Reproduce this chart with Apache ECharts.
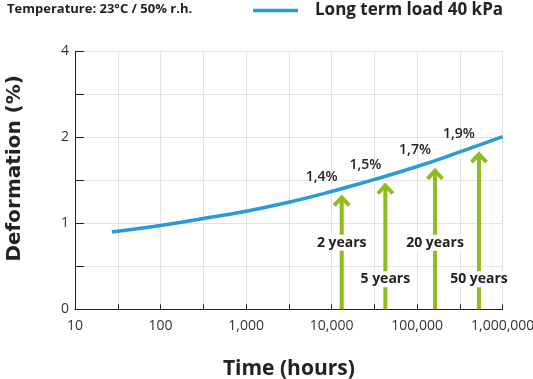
<!DOCTYPE html>
<html>
<head>
<meta charset="utf-8">
<script src="https://cdn.jsdelivr.net/npm/echarts@6/dist/echarts.min.js"></script>
<style>html,body{margin:0;padding:0;background:#fff}#c{width:533px;height:379px}</style>
</head>
<body>
<div id="c"></div>
<script>
// ---- data ----
const hours = [27, 100, 316, 1000, 3162, 10000, 31623, 100000, 316228, 1000000];
const deformation = [0.90, 0.975, 1.055, 1.14, 1.245, 1.37, 1.51, 1.66, 1.83, 2.015];
const arrowHours = [13120, 42460, 161800, 528000];
const arrowTips = [1.318, 1.457, 1.628, 1.821];
const arrowPct = ['1,4%', '1,5%', '1,7%', '1,9%'];
const arrowYears = ['2 years', '5 years', '20 years', '50 years'];
const yearLabelY = [0.775, 0.35, 0.775, 0.35];
const yTickLabels = {0: '0', 1: '1', 2: '2', 3: '4'};
const seriesName = 'Long term load 40 kPa';

// y axis is linear 0..2 then compressed 2..4 (half scale)
function disp(v) { return v <= 2 ? v : 2 + (v - 2) / 2; }
const FONT = 'Open Sans';
const TXT = '#222';
const GREEN = '#8fbc1e';

const chart = echarts.init(document.getElementById('c'), null, {renderer: 'canvas'});
chart.setOption({
  animation: false,
  textStyle: {fontFamily: FONT},
  title: {
    text: 'Temperature: 23°C / 50% r.h.',
    left: 2, top: -2,
    textStyle: {fontFamily: FONT, fontSize: 13, fontWeight: 'bold', color: TXT}
  },
  legend: {
    left: 248, top: -3,
    icon: 'rect', itemWidth: 45, itemHeight: 3.5,
    data: [seriesName],
    textStyle: {fontFamily: FONT, fontSize: 17, fontWeight: 'bold', color: TXT, padding: [0, 0, 0, 12]}
  },
  grid: {left: 75, right: 30.3, top: 51.3, bottom: 69.7, containLabel: false, outerBoundsMode: 'none'},
  xAxis: {
    type: 'value', min: 1, max: 6, interval: 0.5,
    name: 'Time (hours)', nameLocation: 'middle', nameGap: 49,
    nameTextStyle: {fontFamily: FONT, fontSize: 21, fontWeight: 'bold', color: TXT},
    axisLine: {lineStyle: {color: '#222', width: 1}},
    axisTick: {inside: true, length: 5, lineStyle: {color: '#222'}},
    splitLine: {show: true, lineStyle: {color: '#e3e3e3', width: 1}},
    axisLabel: {
      fontFamily: FONT, fontSize: 14, color: '#333', margin: 10,
      formatter: v => Number.isInteger(v) ? Math.round(Math.pow(10, v)).toLocaleString('en-US') : ''
    }
  },
  yAxis: {
    type: 'value', min: 0, max: 3, interval: 0.5,
    name: 'Deformation (%)', nameLocation: 'middle', nameGap: 50,
    nameTextStyle: {fontFamily: 'DejaVu Sans', fontSize: 20, fontWeight: 'bold', color: TXT, padding: [0, 0, 0, 24]},
    axisLine: {show: true, lineStyle: {color: '#222', width: 1}},
    axisTick: {show: true, inside: true, length: 9, lineStyle: {color: '#222'}},
    splitLine: {show: true, lineStyle: {color: '#e3e3e3', width: 1}},
    axisLabel: {
      fontFamily: FONT, fontSize: 14, color: '#333', margin: 6,
      formatter: v => (yTickLabels[v] !== undefined ? yTickLabels[v] : '')
    }
  },
  series: [
    {
      name: seriesName, type: 'line', smooth: true, showSymbol: false,
      lineStyle: {color: '#2a9ad8', width: 3.5},
      itemStyle: {color: '#2a9ad8'},
      data: hours.map((h, i) => [Math.log10(h), disp(deformation[i])]),
      z: 3
    },
    {
      type: 'custom', z: 4,
      data: arrowHours.map((h, i) => [Math.log10(h), disp(arrowTips[i]), disp(yearLabelY[i]), i]),
      renderItem: function (params, api) {
        const x = api.value(0);
        const i = api.value(3);
        const tip = api.coord([x, api.value(1)]);
        const base = api.coord([x, 0]);
        const lab = api.coord([x, api.value(2)]);
        const tx = tip[0], ty = tip[1];
        return {
          type: 'group',
          children: [
            {type: 'line', shape: {x1: tx, y1: base[1], x2: tx, y2: ty + 2},
             style: {stroke: GREEN, lineWidth: 4}},
            {type: 'polyline', shape: {points: [[tx - 7.5, ty + 9.5], [tx, ty + 1.5], [tx + 7.5, ty + 9.5]]},
             style: {stroke: GREEN, lineWidth: 4, fill: null, lineJoin: 'miter'}},
            {type: 'text', x: lab[0], y: lab[1],
             style: {text: arrowYears[i], fontFamily: FONT, fontSize: 14, fontWeight: 'bold', fill: TXT,
                     align: 'center', verticalAlign: 'middle', backgroundColor: '#fff', padding: [1, 1]}},
            {type: 'text', x: tx - 20, y: ty - 19,
             style: {text: arrowPct[i], fontFamily: FONT, fontSize: 14, fontWeight: 600, fill: TXT,
                     align: 'center', verticalAlign: 'middle'}}
          ]
        };
      }
    }
  ]
});
</script>
</body>
</html>
